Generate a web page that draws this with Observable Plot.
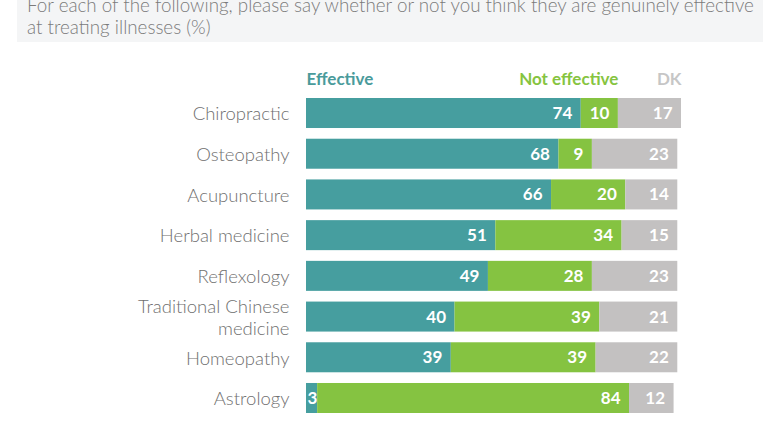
<!DOCTYPE html>
<html>
<head>
<meta charset="utf-8">
<script src="https://cdn.jsdelivr.net/npm/d3@7"></script>
<script src="https://cdn.jsdelivr.net/npm/@observablehq/plot@0.6"></script>
<style>
  html, body { margin: 0; padding: 0; background: #fff; overflow: hidden; }
  body { width: 777px; height: 425px; font-family: Lato, "Open Sans", sans-serif; }
  #head { position: relative; margin-left: 17px; width: 746px; height: 42px; background: #f4f5f6; overflow: hidden; }
  #head div { position: absolute; left: 10px; top: -6px; font-size: 18.8px; font-weight: 300; color: #7b7b7b; line-height: 22px; white-space: nowrap; }
  #chart svg { display: block; }
</style>
</head>
<body>
<div id="head"><div>For each of the following, please say whether or not you think they are genuinely effective<br>at treating illnesses (%)</div></div>
<div id="chart"></div>
<script>
const categories = ["Chiropractic", "Osteopathy", "Acupuncture", "Herbal medicine", "Reflexology", "Traditional Chinese medicine", "Homeopathy", "Astrology"];
const yLabels = ["Chiropractic", "Osteopathy", "Acupuncture", "Herbal medicine", "Reflexology", "Traditional Chinese\nmedicine", "Homeopathy", "Astrology"];
const effective = [74, 68, 66, 51, 49, 40, 39, 3];
const notEffective = [10, 9, 20, 34, 28, 39, 39, 84];
const dk = [17, 23, 14, 15, 23, 21, 22, 12];
const responses = ["Effective", "Not effective", "DK"];
const barColors = ["#469e9f", "#85c341", "#c3c1c1"];
const legendColors = ["#4a9b9b", "#86c440", "#c6c6c6"];

const series = [effective, notEffective, dk];
const data = [];
categories.forEach((c, i) => {
  responses.forEach((r, j) => data.push({item: c, response: r, value: series[j][i]}));
});

const first = categories[0];
const legendData = [
  {label: responses[0], item: first, value: 0, anchor: "start", color: legendColors[0]},
  {label: responses[1], item: first, value: effective[0] + notEffective[0], anchor: "end", color: legendColors[1]},
  {label: responses[2], item: first, value: effective[0] + notEffective[0] + dk[0], anchor: "end", color: legendColors[2]}
];

const plot = Plot.plot({
  width: 777,
  height: 383,
  marginLeft: 306,
  marginRight: 96,
  marginTop: 43,
  marginBottom: 1,
  x: {domain: [0, 101], axis: null},
  y: {domain: categories, axis: null, padding: 0.263, range: [45.3, 381.7], round: false},
  color: {domain: responses, range: barColors},
  style: {fontFamily: "Lato, 'Open Sans', sans-serif", background: "transparent"},
  marks: [
    Plot.barX(data, {x: "value", y: "item", fill: "response"}),
    Plot.text(data, Plot.stackX2({
      x: "value", y: "item", z: "response",
      text: d => d.value >= 5 ? String(d.value) : "",
      textAnchor: "end", dx: -9, fill: "white", fontSize: 17, fontWeight: "bold"
    })),
    Plot.text(data, Plot.stackX1({
      x: "value", y: "item", z: "response",
      text: d => d.value < 5 ? String(d.value) : "",
      textAnchor: "start", dx: 1, fill: "white", fontSize: 17, fontWeight: "bold"
    })),
    Plot.text(categories, {
      y: d => d, text: (d, i) => yLabels[i],
      frameAnchor: "left", textAnchor: "end", dx: -17,
      fill: "#707070", fontSize: 18.5, fontWeight: 300, lineHeight: 1.15
    }),
    Plot.text(legendData.filter(d => d.anchor === "start"), {
      x: "value", text: "label", frameAnchor: "top", lineAnchor: "middle", dy: -6, textAnchor: "start",
      fill: d => d.color, fontSize: 17, fontWeight: "bold"
    }),
    Plot.text(legendData.filter(d => d.anchor === "end"), {
      x: "value", text: "label", frameAnchor: "top", lineAnchor: "middle", dy: -6, textAnchor: "end",
      fill: d => d.color, fontSize: 17, fontWeight: "bold"
    })
  ]
});
document.getElementById("chart").appendChild(plot);
</script>
</body>
</html>
